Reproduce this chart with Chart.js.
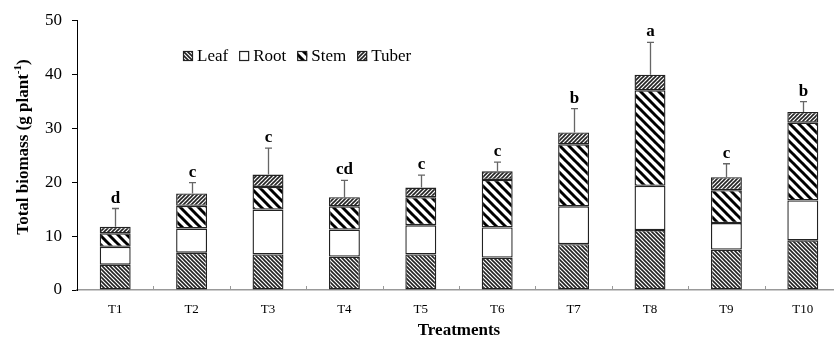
<!DOCTYPE html>
<html>
<head>
<meta charset="utf-8">
<script src="https://cdn.jsdelivr.net/npm/chart.js@4"></script>
<style>
  html, body { margin: 0; padding: 0; background: #fff; overflow: hidden; }
  canvas { display: block; }
</style>
</head>
<body>
<canvas id="biomass" width="845" height="341"></canvas>
<script>
// values (g per plant)
const treatments = ['T1', 'T2', 'T3', 'T4', 'T5', 'T6', 'T7', 'T8', 'T9', 'T10']
const leaf = [4.7, 6.9, 6.6, 6.2, 6.6, 6.0, 8.5, 11.1, 7.5, 9.2]
const root = [3.3, 4.5, 8.3, 5.0, 5.4, 5.6, 7.0, 8.2, 4.9, 7.4]
const stem = [2.5, 4.2, 4.2, 4.3, 5.2, 8.8, 11.5, 17.7, 6.1, 14.4]
const tuber = [1.2, 2.3, 2.3, 1.7, 1.8, 1.6, 2.2, 2.9, 2.4, 2.0]
const errors = [3.4, 2.0, 4.9, 3.1, 2.3, 1.7, 4.4, 6.0, 2.5, 1.9]
const letters = ['d', 'c', 'c', 'cd', 'c', 'c', 'b', 'a', 'c', 'b']
const yMin = 0
const yMax = 50
const yStep = 10

const serif = "'Liberation Serif', 'Times New Roman', serif"
Chart.defaults.font.family = serif
Chart.defaults.color = '#000'

// hatch fills
function hatch(size, dir, lineW, fg) {
    const c = document.createElement('canvas')
    c.width = size
    c.height = size
    const g = c.getContext('2d')
    g.fillStyle = '#fff'
    g.fillRect(0, 0, size, size)
    g.strokeStyle = fg
    g.lineWidth = lineW
    for (let k = -1; k <= 1; k++) {
        g.beginPath()
        if (dir === '\\') {
            g.moveTo(k * size - 1, -1)
            g.lineTo(k * size + size + 1, size + 1)
        } else {
            g.moveTo(k * size - 1, size + 1)
            g.lineTo(k * size + size + 1, -1)
        }
        g.stroke()
    }
    return g.createPattern(c, 'repeat')
}

const leafFill = hatch(4, '\\', 1.6, '#222')
const rootFill = '#fff'
const stemFill = hatch(9, '\\', 3, '#000')
const tuberFill = hatch(4, '/', 1.6, '#222')

const series = [
    { label: 'Leaf', data: leaf, fill: leafFill },
    { label: 'Root', data: root, fill: rootFill },
    { label: 'Stem', data: stem, fill: stemFill },
    { label: 'Tuber', data: tuber, fill: tuberFill }
]

// error bars, letters, legend, y title, inner x ticks
const extras = {
    id: 'extras',
    afterDatasetsDraw(chart) {
        const { ctx, scales: { x, y }, chartArea } = chart
        ctx.save()

        // small inward ticks between categories
        ctx.strokeStyle = '#999'
        ctx.lineWidth = 1
        for (let i = 0; i < treatments.length - 1; i++) {
            const px = Math.round((x.getPixelForValue(i) + x.getPixelForValue(i + 1)) / 2) + 0.5
            ctx.beginPath()
            ctx.moveTo(px, chartArea.bottom)
            ctx.lineTo(px, chartArea.bottom - 4)
            ctx.stroke()
        }

        treatments.forEach((t, i) => {
            const total = leaf[i] + root[i] + stem[i] + tuber[i]
            const px = Math.round(x.getPixelForValue(i)) + 0.5
            const yTop = y.getPixelForValue(total)
            const yErr = y.getPixelForValue(total + errors[i])
            ctx.strokeStyle = '#666'
            ctx.lineWidth = 1.3
            ctx.beginPath()
            ctx.moveTo(px, yTop)
            ctx.lineTo(px, yErr)
            ctx.moveTo(px - 3.5, yErr)
            ctx.lineTo(px + 3.5, yErr)
            ctx.stroke()

            ctx.fillStyle = '#000'
            ctx.font = 'bold 17px ' + serif
            ctx.textAlign = 'center'
            ctx.textBaseline = 'alphabetic'
            ctx.fillText(letters[i], px, yErr - 6)
        })

        // legend inside the plot
        ctx.font = '17px ' + serif
        ctx.textBaseline = 'middle'
        ctx.textAlign = 'left'
        let lx = 183
        const ly = 56
        series.forEach(s => {
            ctx.fillStyle = s.fill
            ctx.fillRect(lx, ly - 5, 10, 10)
            ctx.strokeStyle = '#222'
            ctx.lineWidth = 1.2
            ctx.strokeRect(lx + 0.5, ly - 4.5, 9, 9)
            ctx.fillStyle = '#000'
            ctx.fillText(s.label, lx + 14, ly + 1)
            lx += 14 + ctx.measureText(s.label).width + 11
        })

        // y axis title with superscript
        ctx.translate(24, 147)
        ctx.rotate(-Math.PI / 2)
        const main = 'Total biomass (g plant'
        ctx.font = 'bold 17px ' + serif
        const w1 = ctx.measureText(main).width
        ctx.font = 'bold 11px ' + serif
        const w2 = ctx.measureText('-1').width
        ctx.font = 'bold 17px ' + serif
        const w3 = ctx.measureText(')').width
        let tx = -(w1 + w2 + w3) / 2
        ctx.textBaseline = 'middle'
        ctx.fillText(main, tx, 0)
        tx += w1
        ctx.font = 'bold 11px ' + serif
        ctx.fillText('-1', tx, -6)
        tx += w2
        ctx.font = 'bold 17px ' + serif
        ctx.fillText(')', tx, 0)

        ctx.restore()
    }
}

new Chart(document.getElementById('biomass'), {
    type: 'bar',
    data: {
        labels: treatments,
        datasets: series.map(s => ({
            label: s.label,
            data: s.data,
            backgroundColor: s.fill,
            borderColor: '#222',
            borderWidth: 1.4,
            borderSkipped: false,
            barPercentage: 0.405,
            categoryPercentage: 1
        }))
    },
    options: {
        responsive: false,
        animation: false,
        devicePixelRatio: 1,
        layout: { padding: { left: 0, right: 4, top: 16, bottom: 0 } },
        plugins: {
            legend: { display: false },
            tooltip: { enabled: false }
        },
        scales: {
            x: {
                stacked: true,
                offset: true,
                grid: { drawOnChartArea: false, drawTicks: false },
                border: { display: true, color: '#999', width: 1.5 },
                ticks: { font: { size: 13 }, padding: 12, color: '#000' },
                title: {
                    display: true,
                    text: 'Treatments',
                    font: { size: 17, weight: 'bold' },
                    color: '#000',
                    padding: { top: 0, bottom: 0 }
                },
                afterFit: s => { s.height = 51 }
            },
            y: {
                stacked: true,
                min: yMin,
                max: yMax,
                grid: { drawOnChartArea: false, drawTicks: true, tickLength: 5, color: '#000' },
                border: { display: true, color: '#000', width: 1 },
                ticks: { stepSize: yStep, font: { size: 17 }, padding: 10, color: '#000' },
                afterFit: s => { s.width = 77 }
            }
        }
    },
    plugins: [extras]
})
</script>
</body>
</html>
